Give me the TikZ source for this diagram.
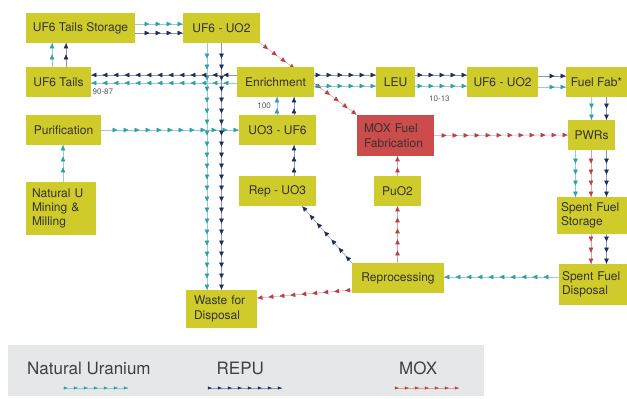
\documentclass[tikz,border=0pt]{standalone}
\usepackage{fontspec}
\setmainfont{TeX Gyre Heros}
\usepackage{tikz}
\usetikzlibrary{positioning, arrows.meta, decorations.markings, backgrounds}
\definecolor{boxyellow}{HTML}{CFCB2B}
\definecolor{moxfill}{HTML}{CC4B4B}
\definecolor{natteal}{HTML}{2AA0AA}
\definecolor{repunavy}{HTML}{1F2D5C}
\definecolor{moxred}{HTML}{B94146}
\definecolor{legendgray}{HTML}{E6E7E8}
\tikzstyle{stage} = [rectangle, fill=boxyellow, text=black!80, font=\fontsize{12}{14.3}\selectfont, inner sep=0pt, minimum height=30pt]
\tikzstyle{moxstage} = [stage, fill=moxfill]
\tikzstyle{share} = [font=\fontsize{8}{9}\selectfont, text=black!65, inner sep=1pt]
\tikzstyle{legendtext} = [font=\fontsize{17}{20}\selectfont, text=black!75, inner sep=0pt, anchor=base west]
\tikzset{
  flow/.style={draw=#1!50, line width=0.5pt, postaction={decorate},
    decoration={markings, mark=between positions \pgfdecoratedpathlength-11pt*floor((\pgfdecoratedpathlength-6pt)/11pt)-0.2pt and 1 step 11pt with {\arrow[#1]{Triangle[length=5pt,width=4.5pt]}}}},
  legendflow/.style={draw=#1!50, line width=0.4pt, postaction={decorate},
    decoration={markings, mark=between positions \pgfdecoratedpathlength-10pt*floor((\pgfdecoratedpathlength-4pt)/10pt)-0.2pt and 1 step 10pt with {\arrow[#1]{Triangle[length=4pt,width=3pt]}}}}
}

\begin{document}
\begin{tikzpicture}[x=1pt, y=1pt, node distance=54pt]
\useasboundingbox (0,0) rectangle (627,-399);

\node (tailstore) [stage, minimum width=109pt] at (80.5,-28) {UF6 Tails Storage};
\node (uo2top) [stage, minimum width=77pt, right of=tailstore, xshift=87pt] {UF6 - UO2};
\node (tails) [stage, minimum width=65pt, below of=tailstore, xshift=-22pt] {UF6 Tails};
\node (enrich) [stage, minimum width=77pt, below of=uo2top, xshift=54pt] {Enrichment};
\node (leu) [stage, minimum width=39pt, right of=enrich, xshift=66pt] {LEU};
\node (uo2right) [stage, minimum width=71pt, right of=leu, xshift=53pt] {UF6 - UO2};
\node (fuelfab) [stage, minimum width=61pt, right of=uo2right, xshift=40pt] {Fuel Fab*};
\node (purif) [stage, minimum width=75pt, below of=tails, xshift=5pt, yshift=6pt] {Purification};
\node (uo3) [stage, minimum width=77pt, below of=enrich, xshift=2pt, yshift=6pt] {UO3 - UF6};
\node (mox) [moxstage, minimum width=77pt, minimum height=41pt, text width=63pt, align=left, below of=leu, yshift=0.5pt] {MOX Fuel\\Fabrication};
\node (pwr) [stage, minimum width=47pt, below of=fuelfab, xshift=-5pt, yshift=1pt] {PWRs};
\node (natural) [stage, minimum width=70pt, minimum height=53pt, text width=58pt, align=left, below of=purif, xshift=-2.5pt, yshift=-24.5pt] {Natural U\\Mining \&\\Milling};
\node (repuo3) [stage, minimum width=77pt, below of=uo3, yshift=-7pt] {Rep - UO3};
\node (puo2) [stage, minimum width=47pt, below of=mox, xshift=2pt, yshift=-1.5pt] {PuO2};
\node (sfstore) [stage, minimum width=70pt, minimum height=37pt, text width=62pt, align=left, below of=pwr, xshift=0.5pt, yshift=-26.5pt] {Spent Fuel\\Storage};
\node (repro) [stage, minimum width=92pt, below of=puo2, xshift=0.5pt, yshift=-33pt] {Reprocessing};
\node (sfdisp) [stage, minimum width=68pt, minimum height=41pt, text width=62pt, align=left, below of=sfstore, xshift=1pt, yshift=-15pt] {Spent Fuel\\Disposal};
\node (waste) [stage, minimum width=71pt, minimum height=38pt, text width=55pt, align=left, below of=repuo3, xshift=-56pt, yshift=-64pt] {Waste for\\Disposal};

\draw [flow=natteal] ([xshift=2pt]natural.north) -- ([xshift=-0.5pt]purif.south);
\draw [flow=natteal] (purif.east) -- (uo3.west);
\draw [flow=natteal] ([xshift=-0.5pt]uo3.north) -- node[share, left=5pt]{100} ([xshift=1.5pt]enrich.south);
\draw [flow=natteal] ([yshift=-1pt]enrich.west) -- node[share, pos=0.92, below=5pt]{90-87} ([yshift=-1pt]tails.east);
\draw [flow=natteal] ([xshift=-6.5pt]tails.north) -- ([xshift=-28.5pt]tailstore.south);
\draw [flow=natteal] ([yshift=4pt]tailstore.east) -- ([yshift=4pt]uo2top.west);
\draw [flow=natteal] ([xshift=-14.5pt]uo2top.south) -- ([xshift=-14.5pt]waste.north);
\draw [flow=natteal] ([yshift=-4pt]enrich.east) -- ([yshift=-4pt]leu.west);
\draw [flow=natteal] ([yshift=-4pt]leu.east) -- node[share, pos=0.47, below=8.5pt]{10-13} ([yshift=-4pt]uo2right.west);
\draw [flow=natteal] ([yshift=-5pt]uo2right.east) -- ([yshift=-5pt]fuelfab.west);
\draw [flow=natteal] ([xshift=-5pt]fuelfab.south) -- (pwr.north);
\draw [flow=natteal] ([xshift=-16pt]pwr.south) -- ([xshift=-16.5pt]sfstore.north);
\draw [flow=natteal] ([yshift=7.5pt]sfdisp.west) -- ([yshift=1pt]repro.east);

\draw [flow=repunavy] ([yshift=-5pt]tailstore.east) -- ([yshift=-5pt]uo2top.west);
\draw [flow=repunavy] (uo2top.south) -- (waste.north);
\draw [flow=repunavy] ([yshift=7pt]enrich.west) -- ([yshift=7pt]tails.east);
\draw [flow=repunavy] ([xshift=7.5pt]tails.north) -- ([xshift=-14.5pt]tailstore.south);
\draw [flow=repunavy] ([yshift=7pt]enrich.east) -- ([yshift=7pt]leu.west);
\draw [flow=repunavy] ([yshift=7pt]leu.east) -- ([yshift=7pt]uo2right.west);
\draw [flow=repunavy] ([yshift=6pt]uo2right.east) -- ([yshift=6pt]fuelfab.west);
\draw [flow=repunavy] ([xshift=10pt]fuelfab.south) -- ([xshift=15pt]pwr.north);
\draw [flow=repunavy] ([xshift=15pt]pwr.south) -- ([xshift=14.5pt]sfstore.north);
\draw [flow=repunavy] ([xshift=14.5pt]sfstore.south) -- ([xshift=13.5pt]sfdisp.north);
\draw [flow=repunavy] (repro.north west) -- ([xshift=-14pt]repuo3.south east);
\draw [flow=repunavy] ([xshift=16.5pt]repuo3.north) -- ([xshift=16.5pt]uo3.south);
\draw [flow=repunavy] ([xshift=16.5pt]uo3.north) -- ([xshift=18.5pt]enrich.south);

\begin{scope}[on background layer]
\draw [flow=moxred] (uo2top.south east) -- (mox.north west);
\end{scope}
\draw [flow=moxred] (mox.east) -- (pwr.west);
\draw [flow=moxred] ([xshift=-0.5pt]pwr.south) -- ([xshift=-1pt]sfstore.north);
\draw [flow=moxred] ([xshift=-1pt]sfstore.south) -- ([xshift=-2pt]sfdisp.north);
\draw [flow=moxred] ([xshift=-0.5pt]repro.north) -- (puo2.south);
\draw [flow=moxred] (puo2.north) -- ([xshift=2pt]mox.south);
\draw [flow=moxred] ([yshift=-12pt]repro.west) -- ([yshift=11pt]waste.east);

\node (legend) [fill=legendgray, minimum width=476pt, minimum height=51pt, inner sep=0pt] at (246,-370.5) {};
\node (natlbl) [legendtext] at (27,-374) {Natural Uranium};
\node (repulbl) [legendtext] at (216.5,-374) {REPU};
\node (moxlbl) [legendtext] at (399,-374) {MOX};
\coordinate (natfrom) at (63,-388);
\coordinate (natto) at (128,-388);
\coordinate (repufrom) at (208,-388);
\coordinate (reputo) at (282,-388);
\coordinate (moxfrom) at (395,-388);
\coordinate (moxto) at (459,-388);
\draw [legendflow=natteal] (natfrom) -- (natto);
\draw [legendflow=repunavy] (repufrom) -- (reputo);
\draw [legendflow=moxred] (moxfrom) -- (moxto);
\end{tikzpicture}
\end{document}
